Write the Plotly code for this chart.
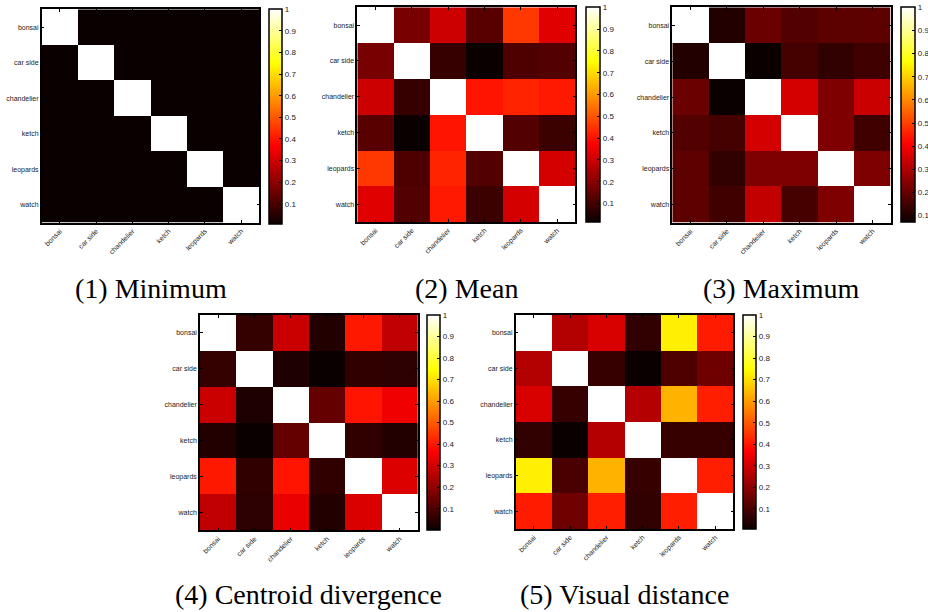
import plotly.graph_objects as go

# ---------------- data ----------------
categories = ["bonsai", "car side", "chandelier", "ketch", "leopards", "watch"]

minimum = [
    [1.000, 0.005, 0.005, 0.005, 0.005, 0.005],
    [0.005, 1.000, 0.005, 0.005, 0.005, 0.005],
    [0.005, 0.005, 1.000, 0.005, 0.005, 0.005],
    [0.005, 0.005, 0.005, 1.000, 0.005, 0.005],
    [0.005, 0.005, 0.005, 0.005, 1.000, 0.005],
    [0.005, 0.005, 0.005, 0.005, 0.005, 1.000],
]

mean = [
    [1.000, 0.176, 0.300, 0.128, 0.455, 0.330],
    [0.176, 1.000, 0.077, 0.014, 0.113, 0.120],
    [0.300, 0.077, 1.000, 0.403, 0.425, 0.410],
    [0.128, 0.014, 0.403, 1.000, 0.120, 0.085],
    [0.455, 0.113, 0.425, 0.120, 1.000, 0.310],
    [0.330, 0.120, 0.410, 0.085, 0.310, 1.000],
]

maximum = [
    [1.000, 0.104, 0.204, 0.171, 0.184, 0.184],
    [0.104, 1.000, 0.071, 0.151, 0.124, 0.144],
    [0.204, 0.071, 1.000, 0.350, 0.231, 0.337],
    [0.171, 0.151, 0.350, 1.000, 0.231, 0.144],
    [0.184, 0.124, 0.231, 0.231, 1.000, 0.231],
    [0.184, 0.144, 0.325, 0.151, 0.231, 1.000],
]

centroid = [
    [1.000, 0.064, 0.286, 0.036, 0.402, 0.272],
    [0.064, 1.000, 0.029, 0.001, 0.057, 0.050],
    [0.286, 0.029, 1.000, 0.136, 0.395, 0.343],
    [0.036, 0.001, 0.136, 1.000, 0.057, 0.036],
    [0.402, 0.057, 0.395, 0.057, 1.000, 0.315],
    [0.272, 0.050, 0.335, 0.036, 0.310, 1.000],
]

visual = [
    [1.000, 0.256, 0.313, 0.064, 0.724, 0.410],
    [0.256, 1.000, 0.071, 0.007, 0.106, 0.156],
    [0.313, 0.071, 1.000, 0.258, 0.634, 0.414],
    [0.064, 0.007, 0.258, 1.000, 0.071, 0.071],
    [0.724, 0.100, 0.634, 0.071, 1.000, 0.414],
    [0.410, 0.156, 0.414, 0.064, 0.414, 1.000],
]

captions = ["(1) Minimum", "(2) Mean", "(3) Maximum",
            "(4) Centroid divergence", "(5) Visual distance"]

cbar_tickvals = [0.1, 0.2, 0.3, 0.4, 0.5, 0.6, 0.7, 0.8, 0.9, 1.0]
cbar_ticktext = ["0.1", "0.2", "0.3", "0.4", "0.5", "0.6", "0.7", "0.8", "0.9", "1"]

matrices = [minimum, mean, maximum, centroid, visual]

# ---------------- layout (pixels) ----------------
W, H = 928, 612
# plot x0, x1, y0(top), y1(bottom), colorbar x0, x1, y0, y1
boxes = [
    (41.7, 259.3, 9.3, 222.7, 269.3, 283.3, 9.3, 224.0),
    (357.3, 575.3, 7.3, 222.0, 585.5, 600.5, 7.3, 222.7),
    (672.3, 890.7, 7.3, 222.7, 901.3, 916.3, 7.3, 222.7),
    (200.0, 417.7, 315.0, 530.3, 427.3, 441.3, 315.0, 530.0),
    (515.7, 733.3, 315.0, 529.0, 743.3, 757.7, 315.0, 529.0),
]
caption_baselines = [296, 296, 296, 602, 602]

hot = [
    [0.0, "rgb(11,0,0)"],
    [0.365, "rgb(255,0,0)"],
    [0.746, "rgb(255,255,0)"],
    [1.0, "rgb(255,255,255)"],
]

tick_font = dict(family="Liberation Sans, Arial, sans-serif", size=7, color="#222")
cb_font = dict(family="Liberation Sans, Arial, sans-serif", size=8, color="#222")
cap_size = 28

fig = go.Figure()
layout = dict(
    width=W, height=H,
    margin=dict(l=0, r=0, t=0, b=0, autoexpand=False),
    paper_bgcolor="white", plot_bgcolor="white",
    showlegend=False,
    annotations=[],
)

for i, (mat, box, cap, base) in enumerate(zip(matrices, boxes, captions, caption_baselines)):
    n = i + 1
    sfx = "" if n == 1 else str(n)
    x0, x1, y0, y1, cx0, cx1, cy0, cy1 = box
    flat = [v for row in mat for v in row]
    fig.add_trace(go.Heatmap(
        z=mat, x=categories, y=categories,
        xaxis="x" + sfx, yaxis="y" + sfx,
        coloraxis="coloraxis" + sfx,
    ))
    axis_common = dict(
        showline=True, linecolor="black", linewidth=1.5, mirror="ticks",
        ticks="inside", ticklen=3, tickcolor="black", tickwidth=1,
        showgrid=False, zeroline=False, tickfont=tick_font,
        automargin=False,
    )
    layout["xaxis" + sfx] = dict(
        domain=[x0 / W, x1 / W], anchor="y" + sfx, tickangle=-45,
        **axis_common,
    )
    layout["yaxis" + sfx] = dict(
        domain=[1 - y1 / H, 1 - y0 / H], anchor="x" + sfx, autorange="reversed",
        **axis_common,
    )
    layout["coloraxis" + sfx] = dict(
        colorscale=hot, cmin=min(flat), cmax=max(flat),
        colorbar=dict(
            x=cx0 / W, xanchor="left", xref="paper",
            y=1 - cy0 / H, yanchor="top", yref="paper",
            len=cy1 - cy0, lenmode="pixels",
            thickness=cx1 - cx0 - 1.5, thicknessmode="pixels",
            xpad=0, ypad=0,
            outlinewidth=1.5, outlinecolor="black",
            tickvals=cbar_tickvals, ticktext=cbar_ticktext,
            ticks="inside", ticklen=3, tickcolor="black",
            tickfont=cb_font,
        ),
    )
    layout["annotations"].append(dict(
        text=cap, x=(x0 + x1) / 2 / W, y=1 - (base - 8) / H,
        xref="paper", yref="paper", xanchor="center", yanchor="middle",
        showarrow=False,
        font=dict(family="Liberation Serif, Times New Roman, serif", size=cap_size, color="black"),
    ))

fig.update_layout(**layout)
fig.write_html(
    "out.html",
    config={"displayModeBar": False},
    post_script="document.body.style.margin='0px';document.body.style.overflow='hidden';",
)
